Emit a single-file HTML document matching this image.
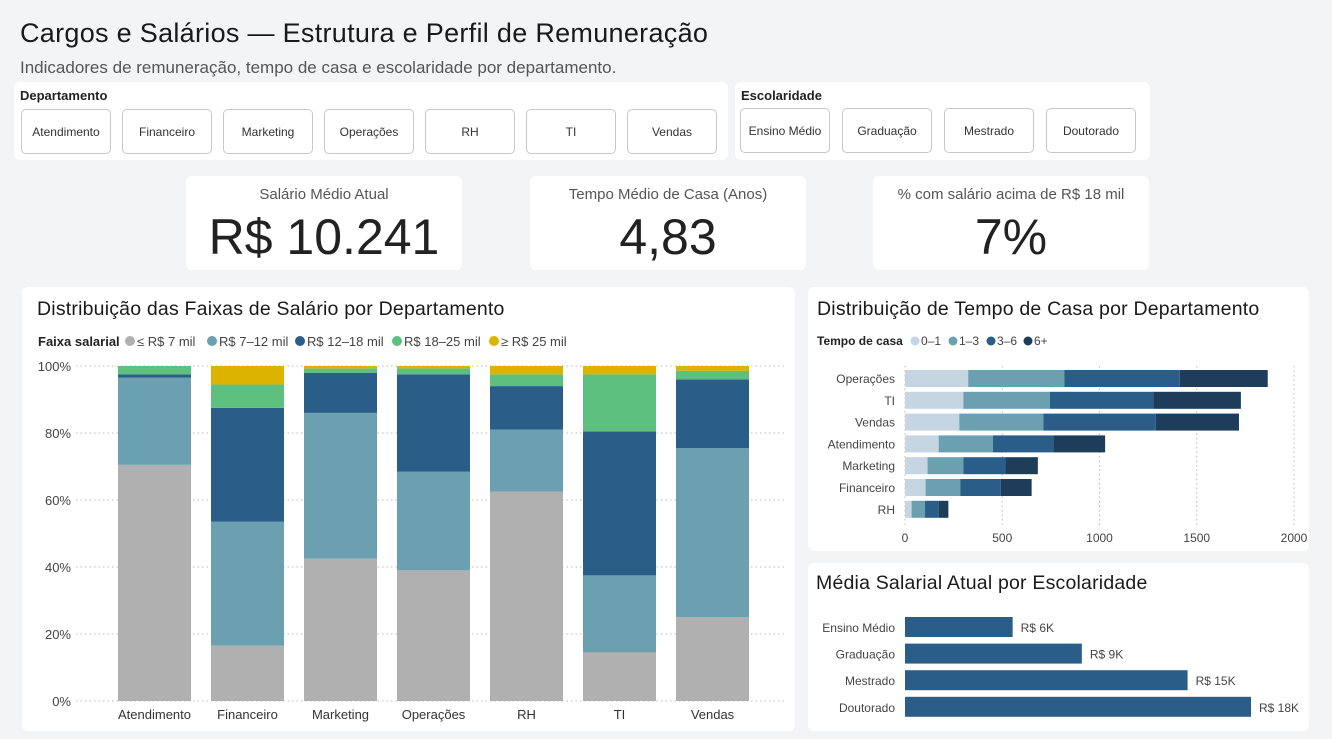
<!DOCTYPE html>
<html><head><meta charset="utf-8"><style>
body{margin:0;width:1332px;height:739px;background:#f3f4f6;font-family:"Liberation Sans",sans-serif;position:relative;overflow:hidden;color:#222}
.abs{position:absolute}
.card{position:absolute;background:#fff;border-radius:6px}
.btn{position:absolute;top:27px;height:45px;width:90px;border:1px solid #c8c8c8;border-radius:5px;background:#fff;font-size:12px;display:flex;align-items:center;justify-content:center;color:#333;box-sizing:border-box}
.lbl{font-size:13px;font-weight:bold;position:absolute;left:6px;top:6px}
.kt{position:absolute;width:100%;text-align:center;top:10px;font-size:15px;color:#555}
.kv{position:absolute;width:100%;text-align:center;top:32px;font-size:50px;color:#222}
</style></head><body>
<div class="abs" style="left:20px;top:18px;font-size:27px;color:#1a1a1a;letter-spacing:0.3px">Cargos e Salários — Estrutura e Perfil de Remuneração</div>
<div class="abs" style="left:20px;top:58px;font-size:17px;color:#555">Indicadores de remuneração, tempo de casa e escolaridade por departamento.</div>

<div class="card" style="left:14px;top:82px;width:714px;height:78px">
<div class="lbl">Departamento</div>
<div class="btn" style="left:7px">Atendimento</div>
<div class="btn" style="left:108px">Financeiro</div>
<div class="btn" style="left:209px">Marketing</div>
<div class="btn" style="left:310px">Operações</div>
<div class="btn" style="left:411px">RH</div>
<div class="btn" style="left:512px">TI</div>
<div class="btn" style="left:613px">Vendas</div>
</div>
<div class="card" style="left:735px;top:82px;width:415px;height:78px">
<div class="lbl">Escolaridade</div>
<div class="btn" style="left:5px;top:26px">Ensino Médio</div>
<div class="btn" style="left:107px;top:26px">Graduação</div>
<div class="btn" style="left:209px;top:26px">Mestrado</div>
<div class="btn" style="left:311px;top:26px">Doutorado</div>
</div>

<div class="card" style="left:186px;top:176px;width:276px;height:94px"><div class="kt">Salário Médio Atual</div><div class="kv">R$ 10.241</div></div>
<div class="card" style="left:530px;top:176px;width:276px;height:94px"><div class="kt">Tempo Médio de Casa (Anos)</div><div class="kv">4,83</div></div>
<div class="card" style="left:873px;top:176px;width:276px;height:94px"><div class="kt">% com salário acima de R$ 18 mil</div><div class="kv">7%</div></div>

<div class="card" style="left:22px;top:287px;width:773px;height:444px"></div>
<div class="card" style="left:808px;top:287px;width:501px;height:264px"></div>
<div class="card" style="left:808px;top:563px;width:501px;height:168px"></div>

<svg class="abs" style="left:0;top:0" width="1332" height="739" id="svg" font-family="Liberation Sans, sans-serif">
<text x="37" y="315" font-size="19.5" letter-spacing="0.2" fill="#1a1a1a">Distribuição das Faixas de Salário por Departamento</text>
<text x="817" y="315" font-size="19.5" letter-spacing="0.2" fill="#1a1a1a">Distribuição de Tempo de Casa por Departamento</text>
<text x="816" y="589" font-size="19.5" letter-spacing="0.2" fill="#1a1a1a">Média Salarial Atual por Escolaridade</text>
<g id="g1"></g><g id="g2"></g><g id="g3"></g>
</svg>
<script>
const depts=["Atendimento","Financeiro","Marketing","Operações","RH","TI","Vendas"];
const bandNames=["≤ R$ 7 mil","R$ 7–12 mil","R$ 12–18 mil","R$ 18–25 mil","≥ R$ 25 mil"];
const bandLe7=[70.5,16.5,42.5,39,62.5,14.5,25];
const band7to12=[26,37,43.5,29.5,18.5,23,50.5];
const band12to18=[1,34,12,29,13,43,20.5];
const band18to25=[2.5,7,1.3,1.8,3.5,17,2.6];
const bandGe25=[0,5.5,0.7,0.7,2.5,2.5,1.4];
const yTicks=[0,20,40,60,80,100];

const tenureDepts=["Operações","TI","Vendas","Atendimento","Marketing","Financeiro","RH"];
const tenureNames=["0–1","1–3","3–6","6+"];
const t0to1=[325,300,279,173,116,106,34];
const t1to3=[495,445,433,279,184,178,69];
const t3to6=[593,532,577,310,217,209,70];
const t6plus=[452,450,428,267,166,158,50];
const xTicks=[0,500,1000,1500,2000];

const eduLevels=["Ensino Médio","Graduação","Mestrado","Doutorado"];
const eduSalary=[5600,9200,14700,18000];
const eduLabels=["R$ 6K","R$ 9K","R$ 15K","R$ 18K"];

const NS="http://www.w3.org/2000/svg";
function mk(p,tag,a,txt){const e=document.createElementNS(NS,tag);for(const k in a)e.setAttribute(k,a[k]);if(txt!==undefined)e.textContent=txt;p.appendChild(e);return e;}

// chart 1
const g1=document.getElementById('g1');
const bandColors=["#b0b0b0","#6aa0b0","#2b5d89","#5ec07e","#dcb400"];
const y1=v=>701-v/100*335;
const x1=i=>118+i*93;
let t=mk(g1,'text',{x:38,y:346,'font-size':13,'font-weight':'bold',fill:'#222'},'Faixa salarial');


const legX=[130,212,300,397,494];
bandNames.forEach((n,k)=>{
  const c=mk(g1,'circle',{cx:legX[k],cy:341,r:5,fill:bandColors[k]});
  
  
  const tt=mk(g1,'text',{x:legX[k]+7,y:346,'font-size':13,fill:'#444'},n);
  
  
});
yTicks.forEach(v=>{
  const l=mk(g1,'line',{x1:76,x2:785,y1:y1(v),y2:y1(v),stroke:'#bbb','stroke-dasharray':'1.5 3'});
  
  
  const tt=mk(g1,'text',{x:71,y:y1(v)+5,'font-size':13,fill:'#444','text-anchor':'end'},v+'%');
  
  
});
const bands=[bandLe7,band7to12,band12to18,band18to25,bandGe25];
depts.forEach((d,i)=>{
  let acc=0;
  bands.forEach((arr,k)=>{
    const v=arr[i];if(v<=0){return;}
    const r=mk(g1,'rect',{x:x1(i),width:73,y:y1(acc+v),height:y1(acc)-y1(acc+v),fill:bandColors[k]});
    
    
    acc+=v;
  });
  const tt=mk(g1,'text',{x:x1(i)+36.5,y:719,'font-size':13,fill:'#333','text-anchor':'middle'},d);
  
  
});

// chart 2
const g2=document.getElementById('g2');
const tColors=["#c5d5e2","#6aa0b0","#2b5d89","#1e3d5a"];
const x2=v=>905+v/2000*389;
const y2=i=>370+i*21.8;
t=mk(g2,'text',{x:817,y:345,'font-size':12,'font-weight':'bold',fill:'#222'},'Tempo de casa');


const tl=[915,953,991,1028];
tenureNames.forEach((n,k)=>{
  const c=mk(g2,'circle',{cx:tl[k],cy:341,r:4.5,fill:tColors[k]});
  
  
  const tt=mk(g2,'text',{x:tl[k]+6,y:345,'font-size':12,fill:'#444'},n);
  
  
});
xTicks.forEach(v=>{
  const l=mk(g2,'line',{x1:x2(v),x2:x2(v),y1:366,y2:528,stroke:'#bbb','stroke-dasharray':'1.5 3'});
  
  
  const tt=mk(g2,'text',{x:x2(v),y:542,'font-size':12,fill:'#444','text-anchor':'middle'},v);
  
  
});
const ts=[t0to1,t1to3,t3to6,t6plus];
tenureDepts.forEach((d,i)=>{
  let acc=0;
  ts.forEach((arr,k)=>{
    const v=arr[i];
    const r=mk(g2,'rect',{x:x2(acc),width:x2(acc+v)-x2(acc),y:y2(i),height:17,fill:tColors[k]});
    
    
    acc+=v;
  });
  const tt=mk(g2,'text',{x:895,y:y2(i)+13,'font-size':12,fill:'#444','text-anchor':'end'},d);
  
  
});

// chart 3
const g3=document.getElementById('g3');
const x3=v=>905+v/18000*346;
const y3=i=>617+i*26.6;
eduLevels.forEach((e,i)=>{
  const r=mk(g3,'rect',{x:905,y:y3(i),width:x3(eduSalary[i])-905,height:20,fill:'#2b5d89'});
  
  
  const tt=mk(g3,'text',{x:895,y:y3(i)+15,'font-size':12,fill:'#444','text-anchor':'end'},e);
  
  
  const vl=mk(g3,'text',{x:x3(eduSalary[i])+8,y:y3(i)+15,'font-size':12,fill:'#444'},eduLabels[i]);
  
  
});
</script>
</body></html>
